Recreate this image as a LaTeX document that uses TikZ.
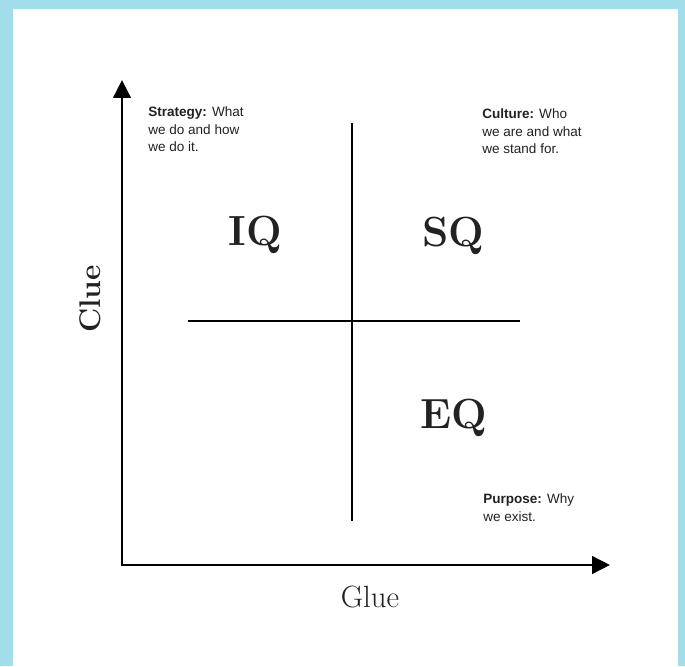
\documentclass[tikz,border=0pt]{standalone}
\usepackage{fontspec}
\setsansfont{Liberation Sans}
\usetikzlibrary{arrows.meta}
\definecolor{frameblue}{HTML}{A2DEEA}
\definecolor{inkgray}{HTML}{222222}

\begin{document}
\begin{tikzpicture}[x=0.02cm, y=0.02cm, every node/.style={text=inkgray},
  axis/.style={line width=1.7pt, line join=miter, {Triangle[length=3.6mm, width=3.5mm]}-{Triangle[length=3.6mm, width=3.5mm]}},
  divider/.style={line width=1.4pt},
  quadlabel/.style={anchor=base, font=\bfseries\fontsize{24}{28}\selectfont},
  axislabel/.style={anchor=base, font=\fontsize{17.5}{20}\selectfont},
  note/.style={anchor=north west, inner sep=0pt, align=left, font=\sffamily\fontsize{7.7}{10.2}\selectfont}]
% frame
\fill[frameblue] (0,0) rectangle (685,666);
\fill[white] (13,0) rectangle (678,657);
\useasboundingbox (0,0) rectangle (685,666);
% axes
\coordinate (origin) at (122,101);
\coordinate (ytip) at (122,586);
\coordinate (xtip) at (610,101);
\draw[axis] (ytip) -- (origin) -- (xtip);
\node[axislabel] (glue) at (370,59) {Glue};
\node[axislabel, rotate=90, font=\bfseries\fontsize{17}{20}\selectfont] (clue) at (100,367) {Clue};
% quadrant cross
\coordinate (vtop) at (352,543);
\coordinate (vbot) at (352,145);
\coordinate (hleft) at (188,345);
\coordinate (hright) at (520,345);
\draw[divider] (vtop) -- (vbot);
\draw[divider] (hleft) -- (hright);
% quadrants
\node[quadlabel] (iq) at (255,420) {IQ};
\node[quadlabel] (sq) at (453,419) {SQ};
\node[quadlabel] (eq) at (454,238) {EQ};
% notes
\node[note] (strategy) at (148,560) {\textbf{Strategy:} What\\we do and how\\we do it.};
\node[note] (culture) at (482,558) {\textbf{Culture:} Who\\we are and what\\we stand for.};
\node[note] (purpose) at (483,173) {\textbf{Purpose:} Why\\we exist.};
\end{tikzpicture}
\end{document}
